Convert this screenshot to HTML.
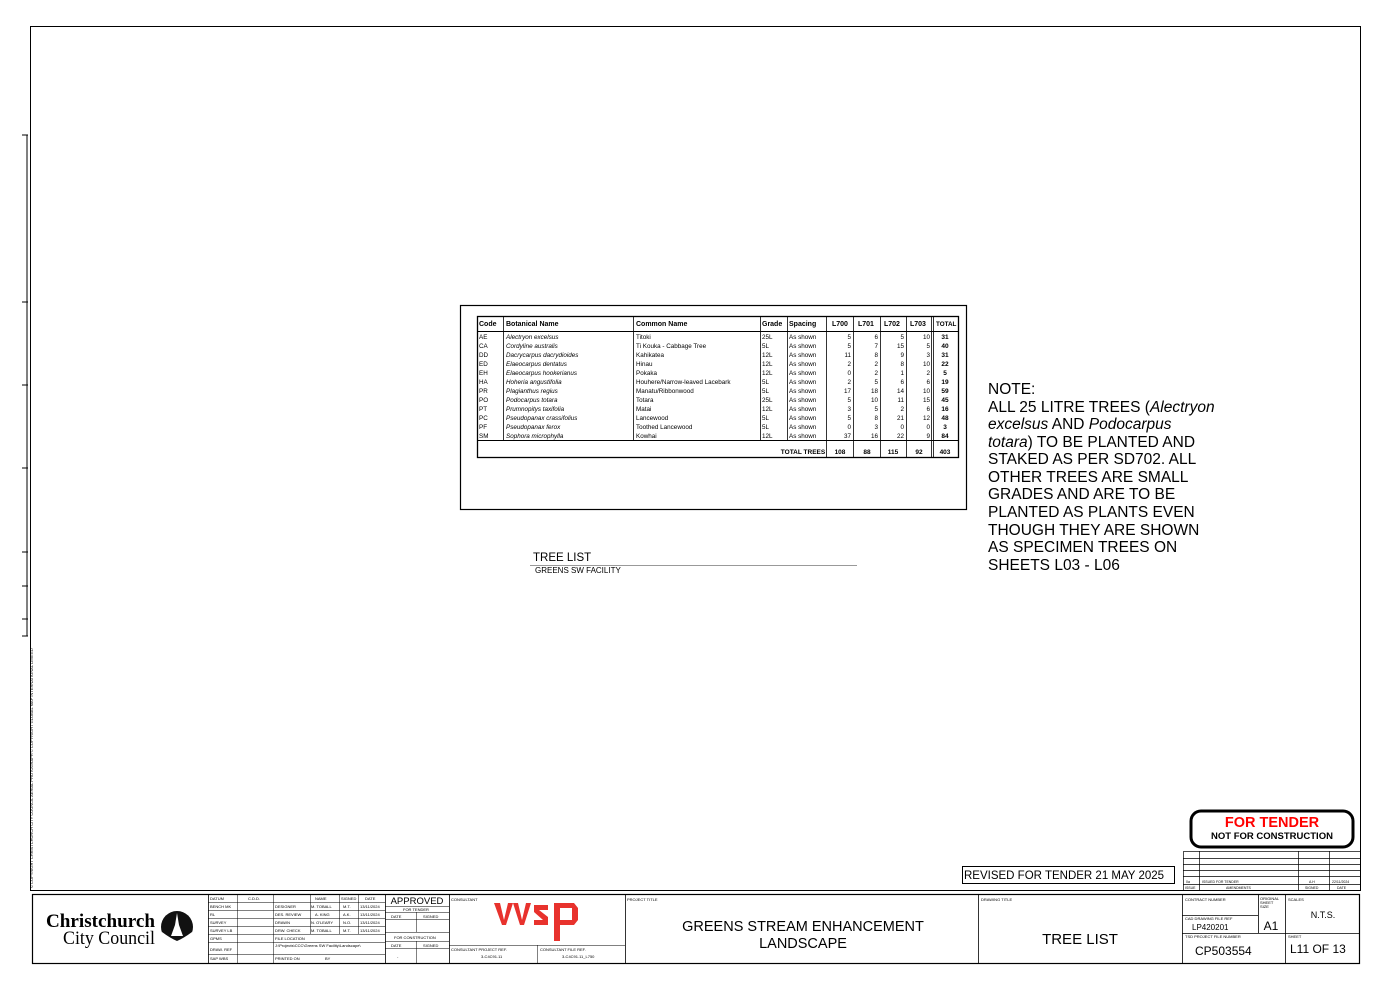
<!DOCTYPE html>
<html><head><meta charset="utf-8"><style>
html,body{margin:0;padding:0;background:#fff}
svg{display:block}
text{font-family:"Liberation Sans",sans-serif;fill:#000}
</style></head><body>
<svg width="1398" height="989" viewBox="0 0 1398 989" xmlns="http://www.w3.org/2000/svg">
<g fill="none" stroke="#000">
<rect x="30.5" y="26.5" width="1330" height="864" stroke-width="1"/>
<rect x="32.5" y="894.5" width="1327" height="69" stroke-width="1.2"/>
</g>
<!-- left ruler -->
<g stroke="#000" stroke-width="1">
<line x1="27" y1="135" x2="27" y2="636"/>
<line x1="22" y1="135" x2="28" y2="135"/><line x1="22" y1="302" x2="28" y2="302"/>
<line x1="22" y1="385" x2="28" y2="385"/><line x1="22" y1="468" x2="28" y2="468"/>
<line x1="22" y1="552" x2="28" y2="552"/><line x1="22" y1="586" x2="28" y2="586"/>
<line x1="22" y1="619" x2="28" y2="619"/><line x1="22" y1="636" x2="28" y2="636"/>
</g>
<text x="0" y="0" font-size="4" transform="translate(33,888) rotate(-90)">© COPYRIGHT CHRISTCHURCH CITY COUNCIL AERIAL PHOTOGRAPH © COPYRIGHT GLOBAL MAP INTERNATIONAL LIMITED</text>

<!-- table box -->
<rect x="460.5" y="305.5" width="506" height="204" fill="none" stroke="#000" stroke-width="1.2"/>
<g fill="none" stroke="#000">
<rect x="477.5" y="316.5" width="481" height="141" stroke-width="1.3"/>
<line x1="477" y1="331.5" x2="958" y2="331.5" stroke-width="1"/>
<line x1="477" y1="440.5" x2="958" y2="440.5" stroke-width="1"/>
<g stroke-width="0.8">
<line x1="503.5" y1="316" x2="503.5" y2="440"/>
<line x1="633.5" y1="316" x2="633.5" y2="440"/>
<line x1="760.5" y1="316" x2="760.5" y2="440"/>
<line x1="787.5" y1="316" x2="787.5" y2="440"/>
<line x1="826.5" y1="316" x2="826.5" y2="457"/>
<line x1="853.5" y1="316" x2="853.5" y2="457"/>
<line x1="880.5" y1="316" x2="880.5" y2="457"/>
<line x1="906.5" y1="316" x2="906.5" y2="457"/>
<line x1="931.5" y1="316" x2="931.5" y2="457"/>
<line x1="933.5" y1="316" x2="933.5" y2="457"/>
</g>
</g>
<g font-size="7" font-weight="bold">
<text x="479" y="326">Code</text><text x="506" y="326">Botanical Name</text><text x="636" y="326">Common Name</text>
<text x="762" y="326">Grade</text><text x="789" y="326">Spacing</text><text x="832" y="326">L700</text>
<text x="858" y="326">L701</text><text x="884" y="326">L702</text><text x="910" y="326">L703</text><text x="936" y="326" font-size="6.3">TOTAL</text>
</g>
<g font-size="6.3" fill="#333">
<text x="479" y="339">AE</text><text x="479" y="348">CA</text><text x="479" y="357">DD</text><text x="479" y="366">ED</text>
<text x="479" y="375">EH</text><text x="479" y="384">HA</text><text x="479" y="393">PR</text><text x="479" y="402">PO</text>
<text x="479" y="411">PT</text><text x="479" y="420">PC</text><text x="479" y="429">PF</text><text x="479" y="438">SM</text>
</g>
<g font-size="6.3" font-style="italic" fill="#444">
<text x="506" y="339">Alectryon excelsus</text><text x="506" y="348">Cordyline australis</text><text x="506" y="357">Dacrycarpus dacrydioides</text>
<text x="506" y="366">Elaeocarpus dentatus</text><text x="506" y="375">Elaeocarpus hookerianus</text><text x="506" y="384">Hoheria angustifolia</text>
<text x="506" y="393">Plagianthus regius</text><text x="506" y="402">Podocarpus totara</text><text x="506" y="411">Prumnopitys taxifolia</text>
<text x="506" y="420">Pseudopanax crassifolius</text><text x="506" y="429">Pseudopanax ferox</text><text x="506" y="438">Sophora microphylla</text>
</g>
<g font-size="6.3" fill="#444">
<text x="636" y="339">Titoki</text><text x="636" y="348">Ti Kouka - Cabbage Tree</text><text x="636" y="357">Kahikatea</text>
<text x="636" y="366">Hinau</text><text x="636" y="375">Pokaka</text><text x="636" y="384">Houhere/Narrow-leaved Lacebark</text>
<text x="636" y="393">Manatu/Ribbonwood</text><text x="636" y="402">Totara</text><text x="636" y="411">Matai</text>
<text x="636" y="420">Lancewood</text><text x="636" y="429">Toothed Lancewood</text><text x="636" y="438">Kowhai</text>
<text x="762" y="339">25L</text><text x="762" y="348">5L</text><text x="762" y="357">12L</text><text x="762" y="366">12L</text>
<text x="762" y="375">12L</text><text x="762" y="384">5L</text><text x="762" y="393">5L</text><text x="762" y="402">25L</text>
<text x="762" y="411">12L</text><text x="762" y="420">5L</text><text x="762" y="429">5L</text><text x="762" y="438">12L</text>
</g>
<g font-size="6.3" fill="#444">
<text x="789" y="339">As shown</text><text x="789" y="348">As shown</text><text x="789" y="357">As shown</text><text x="789" y="366">As shown</text>
<text x="789" y="375">As shown</text><text x="789" y="384">As shown</text><text x="789" y="393">As shown</text><text x="789" y="402">As shown</text>
<text x="789" y="411">As shown</text><text x="789" y="420">As shown</text><text x="789" y="429">As shown</text><text x="789" y="438">As shown</text>
</g>
<g font-size="6.3" fill="#333" text-anchor="end">
<text x="851" y="339">5</text><text x="851" y="348">5</text><text x="851" y="357">11</text><text x="851" y="366">2</text><text x="851" y="375">0</text><text x="851" y="384">2</text><text x="851" y="393">17</text><text x="851" y="402">5</text><text x="851" y="411">3</text><text x="851" y="420">5</text><text x="851" y="429">0</text><text x="851" y="438">37</text>
<text x="878" y="339">6</text><text x="878" y="348">7</text><text x="878" y="357">8</text><text x="878" y="366">2</text><text x="878" y="375">2</text><text x="878" y="384">5</text><text x="878" y="393">18</text><text x="878" y="402">10</text><text x="878" y="411">5</text><text x="878" y="420">8</text><text x="878" y="429">3</text><text x="878" y="438">16</text>
<text x="904" y="339">5</text><text x="904" y="348">15</text><text x="904" y="357">9</text><text x="904" y="366">8</text><text x="904" y="375">1</text><text x="904" y="384">6</text><text x="904" y="393">14</text><text x="904" y="402">11</text><text x="904" y="411">2</text><text x="904" y="420">21</text><text x="904" y="429">0</text><text x="904" y="438">22</text>
<text x="930" y="339">10</text><text x="930" y="348">5</text><text x="930" y="357">3</text><text x="930" y="366">10</text><text x="930" y="375">2</text><text x="930" y="384">6</text><text x="930" y="393">10</text><text x="930" y="402">15</text><text x="930" y="411">6</text><text x="930" y="420">12</text><text x="930" y="429">0</text><text x="930" y="438">9</text>
</g>
<g font-size="6.5" font-weight="bold" text-anchor="middle">
<text x="945" y="339">31</text><text x="945" y="348">40</text><text x="945" y="357">31</text><text x="945" y="366">22</text><text x="945" y="375">5</text><text x="945" y="384">19</text><text x="945" y="393">59</text><text x="945" y="402">45</text><text x="945" y="411">16</text><text x="945" y="420">48</text><text x="945" y="429">3</text><text x="945" y="438">84</text>
<text x="840" y="454">108</text><text x="867" y="454">88</text><text x="893" y="454">115</text><text x="919" y="454">92</text><text x="945" y="454">403</text>
<text x="803" y="454">TOTAL TREES</text>
</g>

<text x="533" y="561" font-size="11.5">TREE LIST</text>
<line x1="530" y1="565.5" x2="857" y2="565.5" stroke="#777" stroke-width="0.8"/>
<text x="535" y="573" font-size="8">GREENS SW FACILITY</text>

<g font-size="15.5">
<text x="988" y="394">NOTE:</text>
<text x="988" y="412">ALL 25 LITRE TREES (<tspan font-style="italic">Alectryon</tspan></text>
<text x="988" y="429"><tspan font-style="italic">excelsus</tspan> AND <tspan font-style="italic">Podocarpus</tspan></text>
<text x="988" y="447"><tspan font-style="italic">totara</tspan>) TO BE PLANTED AND</text>
<text x="988" y="464">STAKED AS PER SD702. ALL</text>
<text x="988" y="482">OTHER TREES ARE SMALL</text>
<text x="988" y="499">GRADES AND ARE TO BE</text>
<text x="988" y="517">PLANTED AS PLANTS EVEN</text>
<text x="988" y="535">THOUGH THEY ARE SHOWN</text>
<text x="988" y="552">AS SPECIMEN TREES ON</text>
<text x="988" y="570">SHEETS L03 - L06</text>
</g>

<!-- FOR TENDER -->
<rect x="1191" y="811" width="162" height="36" rx="10" fill="none" stroke="#000" stroke-width="3"/>
<text x="1272" y="827" font-size="14.5" font-weight="bold" text-anchor="middle" style="fill:#f00">FOR TENDER</text>
<text x="1272" y="839" font-size="9.5" font-weight="bold" text-anchor="middle">NOT FOR CONSTRUCTION</text>

<!-- revision table -->
<g fill="none" stroke="#000" stroke-width="0.7">
<rect x="1183.5" y="851.5" width="177" height="39"/>
<line x1="1183" y1="858.5" x2="1360" y2="858.5"/><line x1="1183" y1="864.5" x2="1360" y2="864.5"/>
<line x1="1183" y1="870.5" x2="1360" y2="870.5"/><line x1="1183" y1="876.5" x2="1360" y2="876.5"/>
<line x1="1183" y1="884.5" x2="1360" y2="884.5"/>
<line x1="1199.5" y1="851" x2="1199.5" y2="891"/><line x1="1298.5" y1="851" x2="1298.5" y2="891"/><line x1="1329.5" y1="851" x2="1329.5" y2="891"/>
</g>
<g font-size="3.5" fill="#444"><text x="1186" y="883">0a</text><text x="1202" y="883">ISSUED FOR TENDER</text><text x="1309" y="883">A.H</text><text x="1332" y="883">22/11/2024</text>
<text x="1185" y="889">ISSUE</text><text x="1226" y="889">AMENDMENTS</text><text x="1305" y="889">SIGNED</text><text x="1337" y="889">DATE</text></g>

<rect x="962.5" y="866.5" width="212" height="17" fill="none" stroke="#000" stroke-width="1"/>
<text x="964" y="879" font-size="11.5">REVISED FOR TENDER 21 MAY 2025</text>

<!-- title block -->
<g fill="none" stroke="#000" stroke-width="0.8">
<line x1="208.5" y1="894" x2="208.5" y2="963"/><line x1="385.5" y1="894" x2="385.5" y2="963"/>
<line x1="449.5" y1="894" x2="449.5" y2="963"/><line x1="625.5" y1="894" x2="625.5" y2="963"/>
<line x1="978.5" y1="894" x2="978.5" y2="963"/><line x1="1182.5" y1="894" x2="1182.5" y2="963"/>
<line x1="1285.5" y1="894" x2="1285.5" y2="963"/><line x1="1258.5" y1="894" x2="1258.5" y2="933"/>
<line x1="1182" y1="933.5" x2="1360" y2="933.5"/><line x1="1182" y1="915.5" x2="1258" y2="915.5"/>
<g stroke-width="0.5">
<line x1="208" y1="902.5" x2="385" y2="902.5"/><line x1="208" y1="910.5" x2="385" y2="910.5"/>
<line x1="208" y1="918.5" x2="385" y2="918.5"/><line x1="208" y1="926.5" x2="385" y2="926.5"/>
<line x1="208" y1="934.5" x2="385" y2="934.5"/><line x1="208" y1="942.5" x2="385" y2="942.5"/>
<line x1="208" y1="954.5" x2="385" y2="954.5"/>
<line x1="237.5" y1="894" x2="237.5" y2="963"/><line x1="273.5" y1="894" x2="273.5" y2="963"/>
<line x1="310.5" y1="894" x2="310.5" y2="934"/><line x1="339.5" y1="894" x2="339.5" y2="934"/><line x1="358.5" y1="894" x2="358.5" y2="934"/>
<line x1="385" y1="906.5" x2="449" y2="906.5"/><line x1="385" y1="912.5" x2="449" y2="912.5"/>
<line x1="385" y1="919.5" x2="449" y2="919.5"/><line x1="385" y1="932.5" x2="449" y2="932.5"/>
<line x1="385" y1="941.5" x2="449" y2="941.5"/><line x1="385" y1="948.5" x2="449" y2="948.5"/>
<line x1="416.5" y1="912" x2="416.5" y2="932"/><line x1="416.5" y1="941" x2="416.5" y2="963"/>
<line x1="449" y1="945.5" x2="625" y2="945.5"/><line x1="537.5" y1="945" x2="537.5" y2="963"/>
</g></g>
<g font-size="4" fill="#444">
<text x="210" y="900">DATUM</text><text x="248" y="900">C.D.D.</text><text x="315" y="900">NAME</text><text x="341" y="900">SIGNED</text><text x="365" y="900">DATE</text>
<text x="210" y="908">BENCH MK</text><text x="275" y="908">DESIGNER</text><text x="311" y="908">M. TOBALL</text><text x="343" y="908">M.T.</text><text x="360" y="908">13/11/2024</text>
<text x="210" y="916">RL</text><text x="275" y="916">DES. REVIEW</text><text x="315" y="916">A. KING</text><text x="343" y="916">A.K.</text><text x="360" y="916">13/11/2024</text>
<text x="210" y="924">SURVEY</text><text x="275" y="924">DRAWN</text><text x="311" y="924">N. O'LEARY</text><text x="343" y="924">N.O.</text><text x="360" y="924">13/11/2024</text>
<text x="210" y="932">SURVEY LB</text><text x="275" y="932">DRW. CHECK</text><text x="311" y="932">M. TOBALL</text><text x="343" y="932">M.T.</text><text x="360" y="932">13/11/2024</text>
<text x="210" y="940">GPMS</text><text x="275" y="940">FILE LOCATION</text>
<text x="210" y="951">DRAW. REF</text><text x="275" y="947">J:\Projects\CCC\Greens SW Facility\Landscape\</text>
<text x="210" y="960">SAP WBS</text><text x="275" y="960">PRINTED ON</text><text x="325" y="960">BY</text>
<text x="403" y="911">FOR TENDER</text><text x="391" y="918">DATE</text><text x="423" y="918">SIGNED</text>
<text x="394" y="939">FOR CONSTRUCTION</text><text x="391" y="947">DATE</text><text x="423" y="947">SIGNED</text><text x="397" y="958">-</text>
<text x="451" y="901">CONSULTANT</text><text x="451" y="951">CONSULTANT PROJECT REF.</text><text x="540" y="951">CONSULTANT FILE REF.</text>
<text x="481" y="958">3-C4C91.11</text><text x="562" y="958">3-C4C91.11_L750</text>
<text x="627" y="901">PROJECT TITLE</text><text x="981" y="901">DRAWING TITLE</text>
<text x="1185" y="901">CONTRACT NUMBER</text><text x="1260" y="900">ORIGINAL</text><text x="1260" y="904">SHEET</text><text x="1260" y="908">SIZE</text><text x="1288" y="901">SCALES</text>
<text x="1185" y="920">CAD DRAWING FILE REF</text><text x="1185" y="938">TSD PROJECT FILE NUMBER</text><text x="1288" y="938">SHEET</text>
</g>
<text x="417" y="904" font-size="9.5" text-anchor="middle">APPROVED</text>
<text x="46" y="927" font-size="19" font-weight="bold" textLength="109" lengthAdjust="spacingAndGlyphs" style="font-family:'Liberation Serif',serif">Christchurch</text>
<text x="63" y="944" font-size="19" textLength="92" lengthAdjust="spacingAndGlyphs" style="font-family:'Liberation Serif',serif">City Council</text>
<circle cx="177" cy="927" r="16" fill="#111"/>
<path d="M177 913 L175 925 L171 936 L183 936 L179 925 Z" fill="#fff"/>
<path d="M162 932 Q170 938 177 941 Q184 938 192 932 L192 936 Q184 944 177 944 Q170 944 162 936 Z" fill="#fff"/>
<g fill="#e8322d">
<path d="M494 903 L500 903 L504 920 L508 903 L513 903 L506 925 L502 925 Z"/>
<path d="M513 903 L518 903 L522 920 L526 903 L531 903 L524 925 L520 925 Z"/>
<path d="M534 905 L548 905 L548 910 L539 910 L548 917 L548 925 L534 925 L534 920 L543 920 L534 912 Z"/>
<path d="M554 903 L574 903 L578 908 L578 920 L574 925 L560 925 L560 941 L554 941 Z M560 908 L560 920 L572 920 L572 908 Z"/>
</g>
<text x="803" y="931" font-size="14.5" text-anchor="middle">GREENS STREAM ENHANCEMENT</text>
<text x="803" y="948" font-size="14.5" text-anchor="middle">LANDSCAPE</text>
<text x="1080" y="944" font-size="15" text-anchor="middle">TREE LIST</text>
<text x="1192" y="930" font-size="8">LP420201</text>
<text x="1271" y="930" font-size="12" text-anchor="middle">A1</text>
<text x="1323" y="918" font-size="9" text-anchor="middle">N.T.S.</text>
<text x="1195" y="955" font-size="12">CP503554</text>
<text x="1290" y="953" font-size="12">L11 OF 13</text>
</svg>
</body></html>
